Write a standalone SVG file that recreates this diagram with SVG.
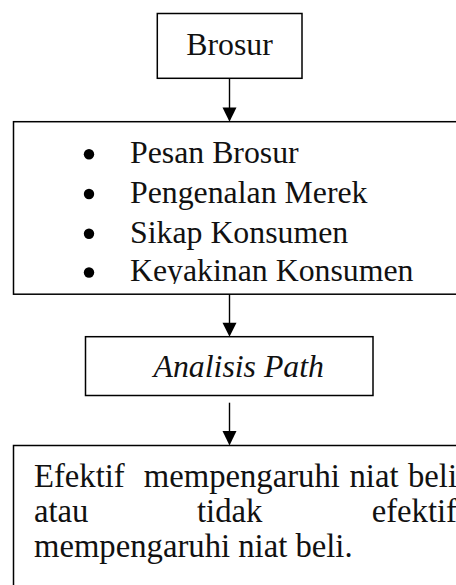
<svg xmlns="http://www.w3.org/2000/svg" width="456" height="585" viewBox="0 0 456 585">
  <defs>
    <style>
      .box { fill: none; stroke: #000; stroke-width: 1.5; }
      .t { font-family: "Liberation Serif", "Times New Roman", serif; fill: #111; }
      .big { font-size: 31.8px; }
      .body { font-size: 32.7px; }
      .conn line { stroke: #000; stroke-width: 1.4; }
      .conn polygon { fill: #000; }
    </style>
    <clipPath id="clipList">
      <rect x="0" y="122" width="456" height="162"/>
    </clipPath>
  </defs>
  <rect x="0" y="0" width="456" height="585" fill="#fff"/>

  <g id="node-brosur">
    <rect class="box" x="157.3" y="13.5" width="144.7" height="64.8"/>
    <text class="t big" x="229.5" y="55" text-anchor="middle">Brosur</text>
  </g>

  <g id="node-variabel">
    <rect class="box" x="13.5" y="121.7" width="460" height="172.5"/>
    <g clip-path="url(#clipList)">
      <circle cx="89" cy="154.3" r="5.2" fill="#000"/>
      <circle cx="89" cy="194" r="5.2" fill="#000"/>
      <circle cx="89" cy="233.7" r="5.2" fill="#000"/>
      <circle cx="89" cy="272.5" r="5.2" fill="#000"/>
      <text class="t big" x="130" y="163.3">Pesan Brosur</text>
      <text class="t big" x="130" y="203">Pengenalan Merek</text>
      <text class="t big" x="130" y="242.7">Sikap Konsumen</text>
      <text class="t big" x="130" y="281.3">Keyakinan Konsumen</text>
    </g>
  </g>

  <g id="node-analisis">
    <rect class="box" x="85.5" y="336.7" width="287.5" height="58.8"/>
    <text class="t big" x="153.5" y="376.7" font-style="italic">Analisis Path</text>
  </g>

  <g id="node-hasil">
    <rect class="box" x="13.5" y="445.5" width="460" height="200"/>
    <text class="t body" y="486.5"><tspan x="34">Efektif</tspan><tspan x="143.8">mempengaruhi</tspan><tspan x="349.5">niat</tspan><tspan x="408">beli</tspan></text>
    <text class="t body" y="521.5"><tspan x="34">atau</tspan><tspan x="197">tidak</tspan><tspan x="371.7">efektif</tspan></text>
    <text class="t body" x="34" y="556.5">mempengaruhi niat beli.</text>
  </g>

  <g id="connectors" class="conn">
    <line x1="229.5" y1="78.3" x2="229.5" y2="108"/>
    <polygon points="222.5,107.5 236.5,107.5 229.5,121.7"/>
    <line x1="229.5" y1="294.2" x2="229.5" y2="323"/>
    <polygon points="222.5,322.7 236.5,322.7 229.5,336.7"/>
    <line x1="229.5" y1="402.7" x2="229.5" y2="431.5"/>
    <polygon points="222.5,431 236.5,431 229.5,445.5"/>
  </g>
</svg>
